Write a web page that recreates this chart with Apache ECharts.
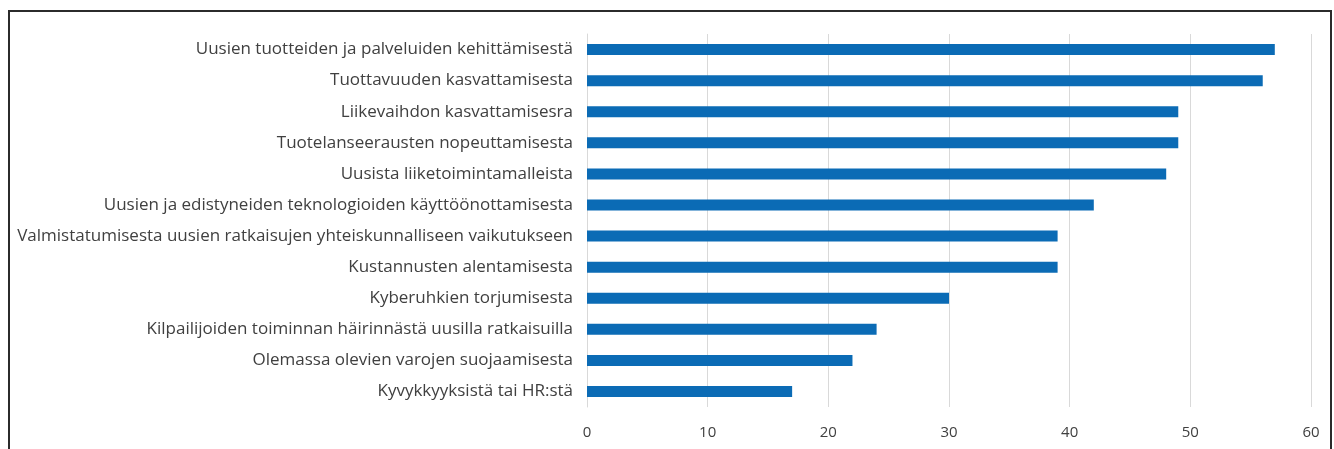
<!DOCTYPE html>
<html>
<head>
<meta charset="utf-8">
<script src="https://cdn.jsdelivr.net/npm/echarts@6/dist/echarts.min.js"></script>
<style>
  html, body { margin: 0; padding: 0; background: #fff; }
  #chart { width: 1334px; height: 449px; }
  #frame {
    position: absolute; left: 8px; top: 10px; width: 1320px; height: 460px;
    border: 2px solid #2b2b2b; pointer-events: none;
  }
</style>
</head>
<body>
<div id="chart"></div>
<div id="frame"></div>
<script>
// kategoriat ylhäältä alas
const categories = [
  'Uusien tuotteiden ja palveluiden kehittämisestä',
  'Tuottavuuden kasvattamisesta',
  'Liikevaihdon kasvattamisesra',
  'Tuotelanseerausten nopeuttamisesta',
  'Uusista liiketoimintamalleista',
  'Uusien ja edistyneiden teknologioiden käyttöönottamisesta',
  'Valmistatumisesta uusien ratkaisujen yhteiskunnalliseen vaikutukseen',
  'Kustannusten alentamisesta',
  'Kyberuhkien torjumisesta',
  'Kilpailijoiden toiminnan häirinnästä uusilla ratkaisuilla',
  'Olemassa olevien varojen suojaamisesta',
  'Kyvykkyyksistä tai HR:stä'
]
const values = [57, 56, 49, 49, 48, 42, 39, 39, 30, 24, 22, 17]
const xTicks = [0, 10, 20, 30, 40, 50, 60]

const chart = echarts.init(document.getElementById('chart'))

const option = {
  animation: false,
  grid: {
    left: 587,
    right: 23,
    top: 34,
    bottom: 42,
    containLabel: false
  },
  xAxis: {
    type: 'value',
    min: xTicks[0],
    max: xTicks[xTicks.length - 1],
    interval: 10,
    axisLine: { show: false },
    axisTick: { show: false },
    axisLabel: {
      color: '#404040',
      fontFamily: 'Open Sans',
      fontSize: 15,
      margin: 18
    },
    splitLine: { lineStyle: { color: '#d9d9d9', width: 1 } }
  },
  yAxis: {
    type: 'category',
    inverse: true,
    data: categories,
    axisLine: { show: true, lineStyle: { color: '#d9d9d9' } },
    axisTick: { show: false },
    axisLabel: {
      color: '#404040',
      fontFamily: 'Open Sans',
      fontSize: 17,
      margin: 14
    }
  },
  series: [
    {
      type: 'bar',
      data: values,
      barWidth: 11,
      itemStyle: { color: '#0b6bb5' }
    }
  ]
}

chart.setOption(option)
</script>
</body>
</html>
